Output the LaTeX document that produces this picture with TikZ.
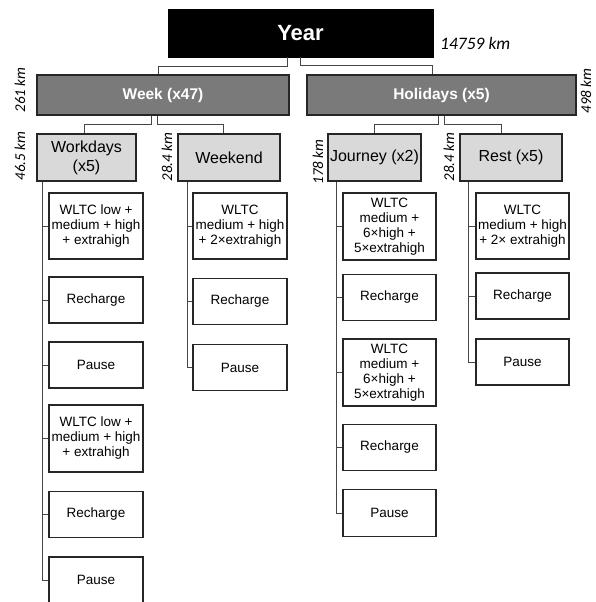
\documentclass[tikz,border=0pt]{standalone}
\usepackage{fontspec}
\setmainfont{Liberation Sans}
\newfontfamily\kmfont{Carlito}
\definecolor{groupgray}{RGB}{122,122,122}
\definecolor{daygray}{RGB}{217,217,217}
\definecolor{boxline}{RGB}{38,38,38}
\definecolor{linegray}{RGB}{70,70,70}
\tikzset{
  yearbox/.style={draw=black,fill=black,text=white,font=\fontsize{22}{24}\selectfont\bfseries,minimum width=265pt,minimum height=48pt,inner sep=0pt},
  groupbox/.style={draw=boxline,fill=groupgray,line width=1.2pt,text=white,font=\fontsize{15.5}{17}\selectfont\bfseries,minimum height=40pt,inner sep=0pt},
  daybox/.style={draw=boxline,fill=daygray,line width=1.2pt,font=\fontsize{16}{19}\selectfont,align=center,minimum height=47pt,inner sep=1pt},
  leafbox/.style={draw=boxline,fill=white,line width=1.2pt,font=\fontsize{13.5}{15}\selectfont,align=center,minimum width=94pt,inner sep=1pt},
  link/.style={draw=linegray,line width=1pt},
  kmlabel/.style={font=\kmfont\itshape\fontsize{15}{17}\selectfont,inner sep=1pt}
}
\begin{document}
\begin{tikzpicture}[x=1pt,y=-1pt]
\useasboundingbox (0,0) rectangle (595,602);
% top levels
\node[yearbox] (year) at (300.5,33) {Year};
\node[kmlabel,anchor=west,font=\kmfont\itshape\fontsize{17.5}{19}\selectfont] (yearkm) at (439,43) {14759 km};
\node[groupbox,minimum width=252pt] (week) at (163,95) {Week (x47)};
\node[groupbox,minimum width=269pt] (holidays) at (441.5,95) {Holidays (x5)};
\node[kmlabel,rotate=90] (weekkm) at (20,90) {261 km};
\node[kmlabel,rotate=90] (holkm) at (586,91) {498 km};
% days
\node[daybox,minimum width=99pt] (workdays) at (86.5,157.5) {Workdays\\(x5)};
\node[daybox,minimum width=102pt] (weekend) at (229,157.5) {Weekend};
\node[daybox,minimum width=93pt] (journey) at (374.5,157.5) {Journey (x2)};
\node[daybox,minimum width=102pt] (rest) at (511,157.5) {Rest (x5)};
\node[kmlabel,rotate=90] (wdkm) at (20,156) {46.5 km};
\node[kmlabel,rotate=90] (wekm) at (167,157) {28.4 km};
\node[kmlabel,rotate=90] (jokm) at (318,162) {178 km};
\node[kmlabel,rotate=90] (rekm) at (449,157) {28.4 km};
% workdays leaves
\node[leafbox,minimum height=66pt] (wd1) at (96,226) {WLTC low +\\medium + high\\+ extrahigh};
\node[leafbox,minimum height=46pt] (wd2) at (96,300) {Recharge};
\node[leafbox,minimum height=46pt] (wd3) at (96,365) {Pause};
\node[leafbox,minimum height=67pt] (wd4) at (96,438.5) {WLTC low +\\medium + high\\+ extrahigh};
\node[leafbox,minimum height=46pt] (wd5) at (96,514.5) {Recharge};
\node[leafbox,minimum height=46pt] (wd6) at (96,580) {Pause};
% weekend leaves
\node[leafbox,minimum height=66pt] (we1) at (240,226) {WLTC\\medium + high\\+ 2×extrahigh};
\node[leafbox,minimum height=46pt] (we2) at (240,301.5) {Recharge};
\node[leafbox,minimum height=46pt] (we3) at (240,367.5) {Pause};
% journey leaves
\node[leafbox,minimum width=93pt,minimum height=67pt] (jo1) at (389.5,226.5) {WLTC\\medium +\\6×high +\\5×extrahigh};
\node[leafbox,minimum width=93pt,minimum height=46pt] (jo2) at (389.5,297.5) {Recharge};
\node[leafbox,minimum width=93pt,minimum height=67pt] (jo3) at (389.5,372.5) {WLTC\\medium +\\6×high +\\5×extrahigh};
\node[leafbox,minimum width=93pt,minimum height=46pt] (jo4) at (389.5,447.5) {Recharge};
\node[leafbox,minimum width=93pt,minimum height=47pt] (jo5) at (389.5,513) {Pause};
% rest leaves
\node[leafbox,minimum width=93pt,minimum height=66pt] (re1) at (522.5,226) {WLTC\\medium + high\\+ 2× extrahigh};
\node[leafbox,minimum width=93pt,minimum height=46pt] (re2) at (522.5,296) {Recharge};
\node[leafbox,minimum width=93pt,minimum height=46pt] (re3) at (522.5,362) {Pause};
% connectors between levels
\draw[link] ([xshift=-13pt]year.south) -- ++(0,9) -| ([xshift=-5pt]week.north);
\draw[link] (year.south) -- ++(0,8) -| ([xshift=-9.5pt]holidays.north);
\draw[link] ([xshift=-12pt]week.south) -- ++(0,9) -| ([xshift=-2.5pt]workdays.north);
\draw[link] ([xshift=-6pt]week.south) -- ++(0,9) -| ([xshift=-6pt]weekend.north);
\draw[link] ([xshift=-3.5pt]holidays.south) -- ++(0,9) -| (journey.north);
\draw[link] ([xshift=2.5pt]holidays.south) -- ++(0,9) -| ([xshift=-10pt]rest.north);
% spines
\draw[link] (wd6.west) -- ++(-6,0) coordinate (wdfoot) -- (wdfoot |- workdays.south);
\draw[link] (we3.west) -- ++(-5,0) coordinate (wefoot) -- (wefoot |- weekend.south);
\draw[link] (jo5.west) -- ++(-6,0) coordinate (jofoot) -- (jofoot |- journey.south);
\draw[link] (re3.west) -- ++(-7,0) coordinate (refoot) -- (refoot |- rest.south);
\foreach \leaf in {wd1,wd2,wd3,wd4,wd5} \draw[link] (\leaf.west) -- ++(-6,0);
\foreach \leaf in {we1,we2} \draw[link] (\leaf.west) -- ++(-5,0);
\foreach \leaf in {jo1,jo2,jo3,jo4} \draw[link] (\leaf.west) -- ++(-6,0);
\foreach \leaf in {re1,re2} \draw[link] (\leaf.west) -- ++(-7,0);
\end{tikzpicture}
\end{document}
